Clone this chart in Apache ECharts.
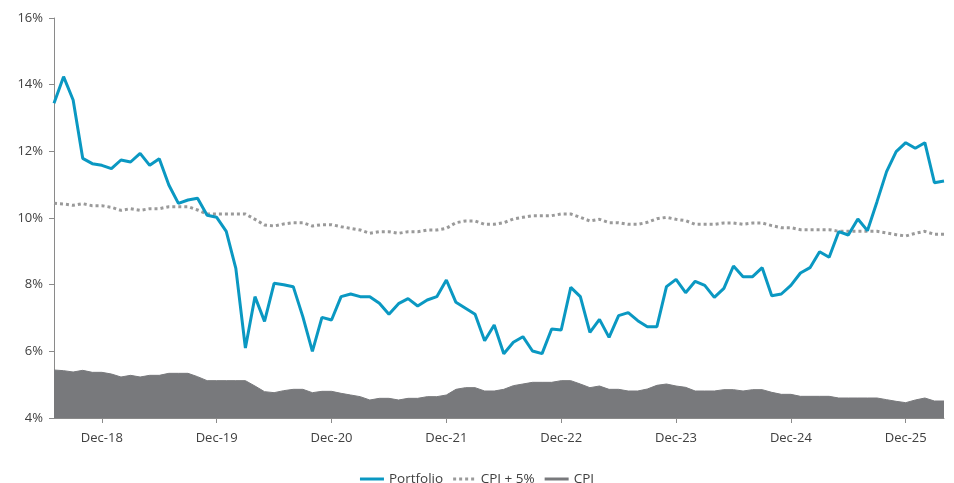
<!DOCTYPE html>
<html><head><meta charset="utf-8">
<script src="https://cdn.jsdelivr.net/npm/echarts@6/dist/echarts.min.js"></script>
<style>html,body{margin:0;padding:0;background:#fff}#c{width:954px;height:483px}</style>
</head><body><div id="c"></div>
<script>
const months = [
 'Jul-18','Aug-18','Sep-18','Oct-18','Nov-18','Dec-18',
 'Jan-19','Feb-19','Mar-19','Apr-19','May-19','Jun-19','Jul-19','Aug-19','Sep-19','Oct-19','Nov-19','Dec-19',
 'Jan-20','Feb-20','Mar-20','Apr-20','May-20','Jun-20','Jul-20','Aug-20','Sep-20','Oct-20','Nov-20','Dec-20',
 'Jan-21','Feb-21','Mar-21','Apr-21','May-21','Jun-21','Jul-21','Aug-21','Sep-21','Oct-21','Nov-21','Dec-21',
 'Jan-22','Feb-22','Mar-22','Apr-22','May-22','Jun-22','Jul-22','Aug-22','Sep-22','Oct-22','Nov-22','Dec-22',
 'Jan-23','Feb-23','Mar-23','Apr-23','May-23','Jun-23','Jul-23','Aug-23','Sep-23','Oct-23','Nov-23','Dec-23',
 'Jan-24','Feb-24','Mar-24','Apr-24','May-24','Jun-24','Jul-24','Aug-24','Sep-24','Oct-24','Nov-24','Dec-24',
 'Jan-25','Feb-25','Mar-25','Apr-25','May-25','Jun-25','Jul-25','Aug-25','Sep-25','Oct-25','Nov-25','Dec-25',
 'Jan-26','Feb-26','Mar-26','Apr-26'
];
const portfolio = [
 13.44,14.24,13.54,11.79,11.63,11.58,
 11.48,11.74,11.68,11.94,11.58,11.78,10.99,10.44,10.54,10.59,10.08,10.02,
 9.60,8.49,6.10,7.64,6.90,8.04,8.00,7.94,7.04,6.00,7.02,6.94,
 7.64,7.72,7.64,7.64,7.44,7.11,7.43,7.58,7.36,7.54,7.64,8.14,
 7.47,7.29,7.11,6.32,6.79,5.93,6.27,6.44,6.01,5.93,6.67,6.64,
 7.92,7.64,6.57,6.96,6.42,7.07,7.16,6.92,6.74,6.74,7.94,8.16,
 7.76,8.10,7.98,7.62,7.89,8.56,8.24,8.24,8.51,7.67,7.72,7.98,
 8.35,8.51,8.99,8.82,9.59,9.49,9.97,9.62,10.49,11.39,11.99,12.26,
 12.09,12.26,11.06,11.11
];
const cpiPlus5 = [
 10.44,10.42,10.38,10.43,10.37,10.37,
 10.32,10.23,10.28,10.23,10.28,10.28,10.34,10.34,10.34,10.24,10.12,10.12,
 10.12,10.12,10.12,9.96,9.79,9.76,9.82,9.86,9.86,9.76,9.80,9.80,
 9.74,9.69,9.64,9.54,9.59,9.59,9.54,9.59,9.59,9.64,9.64,9.69,
 9.86,9.91,9.91,9.81,9.81,9.86,9.97,10.02,10.07,10.07,10.07,10.12,
 10.12,10.02,9.91,9.96,9.86,9.86,9.81,9.81,9.87,9.98,10.02,9.96,
 9.92,9.81,9.81,9.81,9.85,9.85,9.81,9.85,9.85,9.77,9.71,9.71,
 9.65,9.65,9.65,9.65,9.60,9.60,9.60,9.60,9.60,9.55,9.50,9.46,
 9.54,9.60,9.51,9.51
];
const cpi = [
 5.44,5.42,5.38,5.43,5.37,5.37,
 5.32,5.23,5.28,5.23,5.28,5.28,5.34,5.34,5.34,5.24,5.12,5.12,
 5.12,5.12,5.12,4.96,4.79,4.76,4.82,4.86,4.86,4.76,4.80,4.80,
 4.74,4.69,4.64,4.54,4.59,4.59,4.54,4.59,4.59,4.64,4.64,4.69,
 4.86,4.91,4.91,4.81,4.81,4.86,4.97,5.02,5.07,5.07,5.07,5.12,
 5.12,5.02,4.91,4.96,4.86,4.86,4.81,4.81,4.87,4.98,5.02,4.96,
 4.92,4.81,4.81,4.81,4.85,4.85,4.81,4.85,4.85,4.77,4.71,4.71,
 4.65,4.65,4.65,4.65,4.60,4.60,4.60,4.60,4.60,4.55,4.50,4.46,
 4.54,4.60,4.51,4.51
];
const yTicks = {min: 4, max: 16, step: 2};

const chart = echarts.init(document.getElementById('c'), null, {renderer: 'canvas'});
const FONT = 'Open Sans';
const isDec = (i, v) => String(v).indexOf('Dec') === 0;
const dotIcon = 'path://M0,0h3v3h-3zM6,0h3v3h-3zM12,0h3v3h-3zM18,0h3v3h-3z';
chart.setOption({
  animation: false,
  textStyle: {fontFamily: FONT},
  grid: {left: 54, right: 10, top: 18, bottom: 65, containLabel: false},
  legend: {
    top: 467, left: 'center',
    itemWidth: 24, itemHeight: 3, itemGap: 10,
    textStyle: {color: '#404040', fontSize: 13.5, fontFamily: FONT},
    data: [
      {name: 'Portfolio', icon: 'rect'},
      {name: 'CPI + 5%', icon: dotIcon},
      {name: 'CPI', icon: 'rect'}
    ]
  },
  xAxis: {
    type: 'category', data: months, boundaryGap: false,
    axisLine: {lineStyle: {color: '#8a8a8a', width: 1}},
    axisTick: {interval: isDec, length: 5, lineStyle: {color: '#8a8a8a'}},
    axisLabel: {interval: isDec, color: '#404040', fontSize: 13, margin: 14, fontFamily: FONT},
    splitLine: {show: false}
  },
  yAxis: {
    type: 'value', min: yTicks.min, max: yTicks.max, interval: yTicks.step,
    axisLine: {show: true, lineStyle: {color: '#8a8a8a', width: 1}},
    axisTick: {show: true, length: 5, lineStyle: {color: '#8a8a8a'}},
    axisLabel: {formatter: '{value}%', color: '#404040', fontSize: 13, margin: 11, fontFamily: FONT},
    splitLine: {show: false}
  },
  series: [
    {
      name: 'CPI', type: 'line', data: cpi, symbol: 'none', showSymbol: false,
      lineStyle: {color: '#78797c', width: 1},
      itemStyle: {color: '#78797c'},
      areaStyle: {color: '#78797c', opacity: 1},
      z: 1
    },
    {
      name: 'CPI + 5%', type: 'line', data: cpiPlus5, symbol: 'none', showSymbol: false,
      lineStyle: {color: '#9a9a9a', width: 3, type: [3, 3]},
      itemStyle: {color: '#9a9a9a'},
      z: 2
    },
    {
      name: 'Portfolio', type: 'line', data: portfolio, symbol: 'none', showSymbol: false,
      lineStyle: {color: '#0a98c2', width: 3},
      itemStyle: {color: '#0a98c2'},
      z: 3
    }
  ]
});
</script></body></html>
